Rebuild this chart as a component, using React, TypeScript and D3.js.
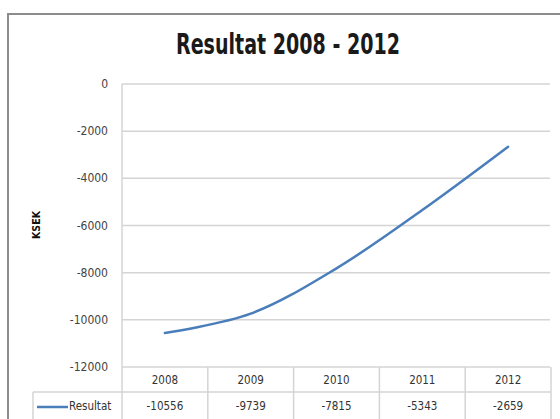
import * as d3 from "d3";

const years = ["2008", "2009", "2010", "2011", "2012"];
const resultat = [-10556, -9739, -7815, -5343, -2659];
const yTicks = [0, -2000, -4000, -6000, -8000, -10000, -12000];

const W = 560;
const H = 419;
const FONT = "'Liberation Sans Narrow', 'DejaVu Sans Condensed', 'Liberation Sans', sans-serif";
const GRID = "#d4d4d4";
const LINE = "#4a7ebb";

export default function App() {
  const x = d3.scaleBand<string>().domain(years).range([122, 551]).padding(0);
  const y = d3.scaleLinear().domain([-12000, 0]).range([367, 84]);

  const pts = years.map((yr, i) => [x(yr)! + x.bandwidth() / 2, y(resultat[i])] as [number, number]);
  const line = d3.line().curve(d3.curveCatmullRom.alpha(0.5));
  const path = line(pts) ?? "";

  const headTop = y(-12000);
  const rowMid = 392;

  return (
    <svg width={W} height={H} style={{ position: "absolute", left: 0, top: 0, background: "#fff" }}>
      {/* outer chart frame */}
      <rect x={8} y={14} width={W} height={H} fill="#fff" stroke="#8c8c8c" strokeWidth={2} />

      <text
        x={288}
        y={54}
        textAnchor="middle"
        textLength={224}
        lengthAdjust="spacingAndGlyphs"
        style={{ fontFamily: FONT, fontSize: 29, fontWeight: 700 }}
        fill="#1a1a1a"
      >
        Resultat 2008 - 2012
      </text>

      {/* gridlines */}
      {yTicks.map((t) => (
        <line key={t} x1={122} x2={550} y1={y(t)} y2={y(t)} stroke={GRID} strokeWidth={1.5} />
      ))}
      {yTicks.map((t) => (
        <text
          key={"l" + t}
          x={108}
          y={y(t) + 4}
          textAnchor="end"
          style={{ fontFamily: FONT, fontSize: 12 }}
          fill="#444"
        >
          {t}
        </text>
      ))}
      <text
        transform="translate(40,225) rotate(-90)"
        textAnchor="middle"
        style={{ fontFamily: FONT, fontSize: 10.5, fontWeight: 700 }}
        fill="#111"
      >
        KSEK
      </text>

      {/* vertical axis */}
      <line x1={122} x2={122} y1={84} y2={H} stroke={GRID} strokeWidth={1.5} />

      {/* data table */}
      <line x1={33} x2={551} y1={rowMid} y2={rowMid} stroke={GRID} strokeWidth={1.5} />
      <line x1={33} x2={33} y1={rowMid} y2={H} stroke={GRID} strokeWidth={1.5} />
      {years.map((yr) => (
        <line
          key={"v" + yr}
          x1={x(yr)! + x.bandwidth()}
          x2={x(yr)! + x.bandwidth()}
          y1={headTop}
          y2={H}
          stroke={GRID}
          strokeWidth={1.5}
        />
      ))}
      {years.map((yr, i) => (
        <g key={"c" + yr}>
          <text
            x={x(yr)! + x.bandwidth() / 2}
            y={384}
            textAnchor="middle"
            style={{ fontFamily: FONT, fontSize: 11.5 }}
            fill="#333"
          >
            {yr}
          </text>
          <text
            x={x(yr)! + x.bandwidth() / 2}
            y={410}
            textAnchor="middle"
            style={{ fontFamily: FONT, fontSize: 11.5 }}
            fill="#333"
          >
            {resultat[i]}
          </text>
        </g>
      ))}
      <line x1={37} x2={68} y1={407} y2={407} stroke={LINE} strokeWidth={2.5} />
      <text x={69} y={410} style={{ fontFamily: FONT, fontSize: 11.5 }} fill="#333">
        Resultat
      </text>

      {/* series */}
      <path d={path} fill="none" stroke={LINE} strokeWidth={2.5} strokeLinecap="round" />
    </svg>
  );
}
